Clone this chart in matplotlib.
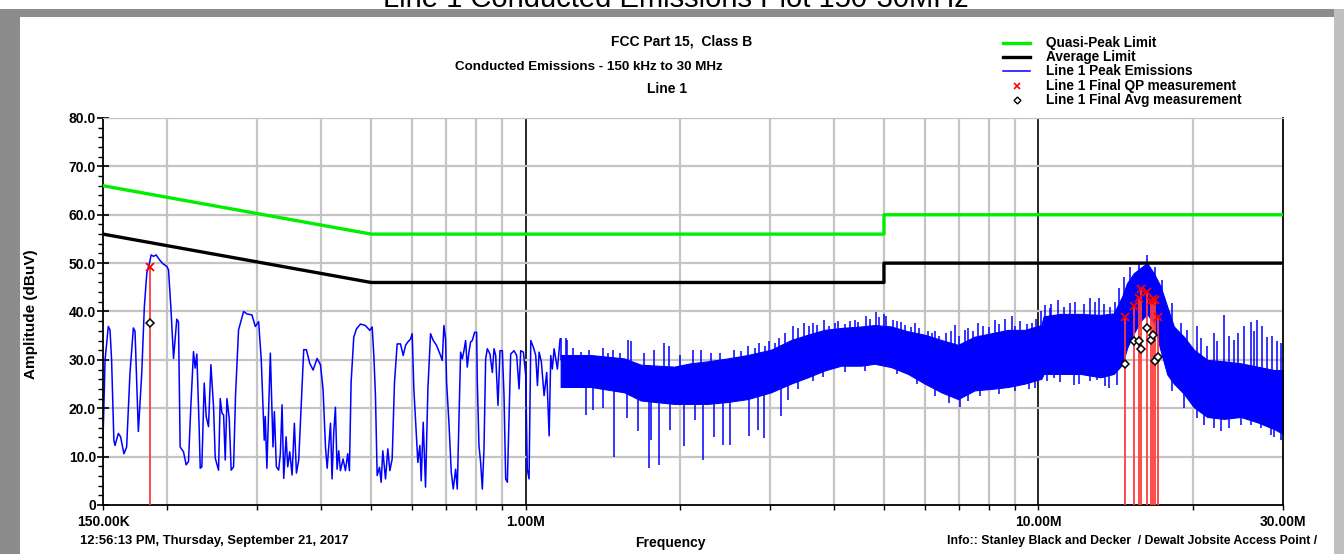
import matplotlib
matplotlib.use("Agg")
import matplotlib.pyplot as plt
import numpy as np
from matplotlib.patches import Rectangle
from matplotlib.ticker import FixedLocator, MultipleLocator, FuncFormatter

# ---- limit lines (FCC Part 15 Class B, conducted) ----
limit_freq_mhz = [0.15, 0.5, 5.0, 5.0, 30.0]
qp_limit_dbuv = [66.0, 56.0, 56.0, 60.0, 60.0]
avg_limit_dbuv = [56.0, 46.0, 46.0, 50.0, 50.0]

# ---- peak scan, 150 kHz .. ~1.17 MHz (kHz, dBuV) ----
scan_lo_khz = [
    150.0, 151.4, 153.6, 154.8, 155.9, 157.5, 158.3, 160.7, 162.3, 164.8,
    166.8, 169.3, 171.9, 173.2, 175.8, 178.5, 180.6, 182.6, 184.8, 186.2,
    188.2, 190.4, 193.3, 196.2, 199.8, 201.3, 203.4, 205.9, 208.9, 210.5,
    212.1, 215.3, 217.9, 220.2, 222.5, 225.2, 226.9, 228.6, 231.1, 232.1,
    233.8, 236.3, 238.4, 240.9, 243.5, 246.4, 248.3, 252.0, 253.9, 255.9,
    257.8, 259.7, 261.7, 264.4, 266.7, 269.6, 272.0, 275.7, 282.0, 286.2,
    292.8, 297.2, 301.7, 305.3, 309.4, 310.8, 313.1, 318.0, 321.8, 323.8,
    326.7, 330.1, 332.6, 335.2, 337.7, 341.3, 343.8, 346.9, 350.6, 354.2,
    357.5, 361.2, 364.0, 369.4, 373.9, 379.5, 385.3, 392.3, 398.2, 403.0,
    407.3, 410.4, 416.6, 419.5, 422.7, 425.9, 429.1, 432.3, 435.6, 440.8,
    445.5, 450.1, 453.5, 457.0, 462.5, 468.1, 476.6, 487.4, 497.0, 502.3,
    506.1, 509.8, 513.7, 519.1, 523.0, 526.9, 533.3, 538.9, 543.8, 549.5,
    555.3, 562.0, 570.5, 577.4, 583.5, 589.6, 596.7, 601.2, 605.7, 613.0,
    616.7, 622.3, 626.0, 631.7, 638.3, 645.1, 652.9, 660.8, 670.7, 682.9,
    688.1, 693.2, 698.4, 701.6, 709.0, 716.5, 722.9, 730.6, 736.1, 741.6,
    747.2, 752.8, 758.5, 764.2, 769.9, 775.7, 781.5, 787.4, 795.7, 802.9,
    805.4, 811.4, 817.5, 823.7, 829.9, 836.1, 842.4, 852.6, 861.6, 868.1,
    874.6, 883.8, 891.8, 901.2, 908.0, 914.8, 921.7, 928.7, 935.6, 949.8,
    961.2, 971.4, 978.7, 990.5, 1001.0, 1008.0, 1016.0, 1024.0, 1036.0, 1047.0,
    1055.0, 1063.0, 1074.0, 1087.0, 1100.0, 1112.0, 1120.0, 1128.0, 1137.0, 1154.0,
    1168.0,
]
scan_lo_dbuv = [
    13.5, 30.0, 36.9, 36.2, 30.0, 13.4, 12.3, 14.8, 14.1, 10.6,
    12.0, 27.2, 36.6, 35.9, 15.2, 27.2, 41.0, 47.9, 50.0, 51.7,
    51.4, 51.7, 50.7, 49.9, 49.3, 48.6, 41.0, 30.3, 38.4, 37.9,
    12.0, 11.0, 8.3, 9.0, 20.3, 31.7, 28.3, 31.2, 15.2, 7.6,
    7.9, 25.2, 18.3, 16.2, 29.0, 20.3, 9.7, 7.2, 22.0, 19.0,
    18.6, 9.3, 22.0, 17.9, 7.2, 7.9, 22.8, 36.2, 40.0, 39.5,
    39.3, 36.9, 37.9, 30.0, 13.4, 18.3, 7.6, 31.4, 12.0, 19.3,
    7.9, 7.2, 10.6, 20.7, 5.5, 14.1, 7.9, 11.0, 6.2, 16.9,
    6.6, 9.3, 17.2, 32.1, 32.1, 29.3, 27.9, 30.3, 29.0, 23.8,
    12.0, 7.6, 16.9, 5.4, 15.0, 20.2, 7.4, 11.2, 7.1, 9.5,
    7.1, 10.6, 7.1, 25.4, 34.7, 36.4, 37.4, 37.1, 36.1, 36.8,
    30.9, 22.6, 6.1, 7.8, 4.7, 11.2, 5.4, 11.6, 7.1, 9.5,
    25.4, 33.3, 33.3, 30.9, 33.0, 33.7, 34.3, 35.4, 24.0, 13.7,
    8.8, 12.3, 5.0, 17.1, 3.7, 24.0, 35.4, 34.0, 33.0, 30.9,
    29.9, 37.1, 34.3, 25.4, 17.1, 6.8, 3.3, 7.4, 3.3, 17.1,
    31.6, 30.2, 31.9, 34.0, 28.5, 31.6, 33.7, 34.0, 35.7, 35.7,
    25.4, 12.3, 8.8, 3.3, 11.6, 30.2, 32.3, 31.2, 27.4, 32.3,
    30.9, 20.6, 31.9, 31.9, 22.6, 5.4, 4.7, 18.5, 31.2, 31.9,
    30.9, 24.0, 31.9, 31.6, 26.8, 7.4, 5.4, 34.0, 32.6, 30.9,
    24.7, 31.6, 29.5, 22.6, 27.4, 14.3, 30.9, 28.1, 32.3, 28.1,
    34.3,
]

# ---- peak scan above ~1.17 MHz: dense sweep, shown as its envelope ----
band_mhz = [
    1.171, 1.341, 1.557, 1.679, 1.950, 2.102, 2.266, 2.479, 2.712, 3.012,
    3.295, 3.552, 3.828, 4.127, 4.515, 4.794, 5.167, 5.569, 6.002, 6.470,
    6.973, 7.515, 8.103, 8.734, 9.412, 10.14, 10.24, 11.04, 12.08, 13.22,
    14.03, 14.57, 14.90, 15.35, 15.82, 16.30, 16.80, 17.31, 17.84, 18.38,
    19.22, 20.11, 21.35, 23.01, 24.80, 26.74, 28.82, 30.0,
]
band_hi_dbuv = [
    31.0, 31.0, 30.3, 29.0, 28.6, 29.3, 29.7, 30.3, 31.0, 32.1,
    34.1, 35.2, 36.2, 36.6, 36.9, 37.2, 36.9, 35.9, 35.2, 34.1,
    33.1, 34.8, 35.5, 36.2, 36.2, 37.2, 39.0, 39.5, 39.5, 39.3,
    39.6, 43.1, 45.9, 47.9, 49.0, 50.0, 47.9, 45.2, 41.0, 36.9,
    34.8, 32.1, 30.0, 29.7, 29.3, 28.6, 27.9, 27.9,
]
band_lo_dbuv = [
    24.4, 24.4, 23.3, 21.6, 20.9, 20.9, 20.9, 21.3, 21.9, 23.3,
    25.1, 26.4, 27.8, 28.8, 28.8, 29.2, 28.5, 27.1, 25.1, 23.3,
    21.9, 23.7, 24.0, 24.4, 25.1, 26.1, 27.1, 27.1, 27.1, 26.4,
    27.1, 29.0, 32.5, 35.5, 38.0, 39.5, 37.5, 32.0, 27.0, 25.1,
    23.0, 20.2, 18.2, 17.8, 18.2, 17.1, 15.7, 14.7,
]
# single-sweep excursions above / below the envelope
spike_up_mhz = [
    1.171, 1.198, 1.207, 1.240, 1.282, 1.330, 1.413, 1.450, 1.478, 1.530,
    1.586, 1.605, 1.700, 1.780, 1.864, 1.907, 2.000, 2.118, 2.198, 2.300,
    2.400, 2.554, 2.630, 2.712, 2.800, 2.858, 2.930, 2.989, 3.060, 3.127,
    3.200, 3.320, 3.400, 3.499, 3.570, 3.633, 3.700, 3.828, 3.900, 4.017,
    4.070, 4.200, 4.300, 4.381, 4.450, 4.617, 4.700, 4.830, 4.900, 5.000,
    5.052, 5.200, 5.300, 5.404, 5.500, 5.650, 5.739, 5.850, 6.100, 6.200,
    6.279, 6.400, 6.600, 6.750, 6.869, 7.000, 7.185, 7.300, 7.450, 7.629,
    7.800, 8.000, 8.225, 8.400, 8.604, 8.866, 9.000, 9.200, 9.500, 9.699,
    9.900, 10.10, 10.30, 10.53, 10.60, 10.91, 11.20, 11.55, 11.80, 12.30,
    12.63, 12.90, 13.12, 13.40, 13.82, 14.10, 14.39, 14.68, 15.12, 15.70,
    16.30, 16.92, 17.44, 18.24, 18.94, 19.51, 20.41, 20.80, 21.35, 21.99,
    22.30, 23.01, 23.50, 24.07, 24.50, 25.18, 25.95, 26.30, 26.74, 27.30,
    27.96, 28.50, 29.20, 29.70,
]
spike_up_dbuv = [
    34.5, 34.5, 34.1, 32.5, 31.7, 32.0, 32.4, 31.5, 32.1, 31.5,
    34.1, 33.8, 31.5, 32.0, 33.4, 32.8, 31.0, 32.1, 32.1, 31.5,
    31.5, 32.1, 31.8, 32.8, 32.5, 33.4, 32.8, 33.8, 33.5, 34.5,
    35.5, 36.9, 36.5, 37.6, 37.0, 37.7, 37.2, 38.3, 37.0, 37.7,
    38.0, 37.5, 38.0, 38.3, 37.8, 39.1, 38.5, 39.8, 38.8, 39.5,
    39.1, 38.3, 38.0, 37.9, 37.3, 36.8, 37.6, 36.5, 36.0, 35.5,
    35.9, 35.0, 35.5, 36.0, 37.2, 35.0, 36.2, 36.5, 36.0, 37.6,
    37.0, 36.8, 38.3, 37.5, 38.4, 39.0, 37.0, 38.0, 37.5, 37.6,
    38.5, 40.0, 41.4, 40.7, 41.5, 42.4, 41.0, 41.7, 42.0, 41.5,
    42.8, 42.0, 42.8, 41.5, 41.0, 42.0, 44.8, 47.2, 49.3, 50.0,
    51.7, 49.3, 46.6, 41.7, 37.6, 36.2, 36.9, 34.5, 32.8, 35.5,
    34.0, 39.3, 35.0, 34.1, 35.5, 36.9, 37.9, 36.0, 38.3, 37.0,
    34.8, 35.0, 34.0, 33.4,
]
spike_dn_mhz = [
    1.311, 1.351, 1.419, 1.485, 1.576, 1.654, 1.738, 1.756, 1.823, 1.915,
    2.034, 2.140, 2.222, 2.328, 2.424, 2.501, 2.732, 2.837, 2.923, 3.150,
    3.256, 3.400, 3.633, 3.800, 4.200, 4.583, 5.300, 5.800, 6.300, 6.700,
    7.025, 7.300, 7.700, 8.400, 9.000, 9.600, 9.845, 10.40, 10.71, 11.00,
    11.72, 12.00, 12.63, 13.00, 13.50, 13.72, 14.24, 18.24, 19.22, 20.41,
    21.00, 21.99, 22.67, 23.50, 24.80, 26.00, 27.14, 28.39, 28.80, 29.70,
]
spike_dn_dbuv = [
    18.6, 19.7, 20.0, 10.0, 17.9, 15.2, 7.6, 13.4, 8.3, 15.5,
    12.1, 17.6, 9.3, 14.1, 12.4, 12.4, 14.3, 15.5, 13.8, 18.5,
    21.7, 24.0, 25.6, 26.5, 27.5, 27.6, 27.0, 25.0, 22.5, 21.0,
    20.2, 21.5, 22.5, 23.0, 23.5, 24.0, 24.1, 25.6, 26.2, 25.5,
    24.9, 25.0, 25.6, 25.8, 24.5, 24.2, 24.9, 23.5, 20.0, 18.0,
    16.5, 15.9, 15.2, 16.0, 16.6, 16.5, 15.9, 14.5, 14.0, 13.4,
]

# ---- final measurements ----
final_mhz = [0.185, 14.79, 15.38, 15.73, 15.87, 16.27, 16.55, 16.75, 16.90, 17.13]
final_qp_dbuv = [49.3, 38.8, 41.1, 42.7, 44.6, 44.0, 42.2, 42.5, 42.4, 38.8]
final_avg_dbuv = [37.6, 29.2, 33.8, 33.8, 32.2, 36.6, 34.1, 35.1, 29.7, 30.5]

W, H = 1344, 554
fig = plt.figure(figsize=(W / 100, H / 100), dpi=100)
plt.rcParams['font.family'] = ['Liberation Sans', 'DejaVu Sans']


def px(x, y):
    return x / W, 1 - y / H


ax = fig.add_axes([103 / W, 1 - 505 / H, (1283 - 103) / W, (505 - 118) / H])
ax.set_xscale('log')
ax.set_xlim(0.15, 30)
ax.set_ylim(0, 80)

grid_grey = '#c4c4c4'
minor_f = [0.2, 0.3, 0.4, 0.5, 0.6, 0.7, 0.8, 0.9, 2, 3, 4, 5, 6, 7, 8, 9, 20]
for f in minor_f:
    ax.axvline(f, color=grid_grey, lw=1.6, zorder=0)
for f in [1, 10]:
    ax.axvline(f, color='black', lw=1.2, zorder=0)
for v in range(10, 81, 10):
    ax.axhline(v, color=grid_grey, lw=1.6, zorder=0)

# limits
ax.plot(limit_freq_mhz, qp_limit_dbuv, color='#00ee00', lw=2.4, zorder=3)
ax.plot(limit_freq_mhz, avg_limit_dbuv, color='black', lw=2.4, zorder=3)

# peak emissions
blue = '#0000ff'
ax.plot(np.array(scan_lo_khz) / 1000, scan_lo_dbuv, color=blue, lw=1.1, zorder=2)
ax.fill_between(band_mhz, band_lo_dbuv, band_hi_dbuv, color=blue, lw=0.8, zorder=2)
up_base = np.interp(spike_up_mhz, band_mhz, band_hi_dbuv)
ax.vlines(spike_up_mhz, up_base - 1, spike_up_dbuv, color=blue, lw=1.1, zorder=2)
dn_base = np.interp(spike_dn_mhz, band_mhz, band_lo_dbuv)
ax.vlines(spike_dn_mhz, spike_dn_dbuv, dn_base + 1, color=blue, lw=1.1, zorder=2)

# final QP / average measurements
ax.vlines(final_mhz, 0, final_qp_dbuv, color='#ff3c3c', lw=1.3, zorder=4)
ax.plot(final_mhz, final_qp_dbuv, 'x', color='#ff0000', ms=6, mew=1.3, zorder=5)
ax.plot(final_mhz, final_avg_dbuv, 'D', color='white', mec='black', ms=4, mew=1.1, zorder=5)

# axes cosmetics
ax.spines['top'].set_color(grid_grey)
ax.spines['left'].set_linewidth(1.3)
ax.spines['bottom'].set_linewidth(1.3)
ax.spines['right'].set_linewidth(1.3)

ax.xaxis.set_major_locator(FixedLocator([0.15, 1, 10, 30]))
ax.xaxis.set_minor_locator(FixedLocator(minor_f))
ax.xaxis.set_major_formatter(FuncFormatter(
    lambda v, p: {0.15: '150.00K', 1: '1.00M', 10: '10.00M', 30: '30.00M'}.get(round(v, 2), '')))
ax.xaxis.set_minor_formatter(FuncFormatter(lambda v, p: ''))
ax.tick_params(axis='x', which='both', direction='out', length=3.5, width=1, pad=4,
               labelsize=10)
ax.yaxis.set_major_locator(MultipleLocator(10))
ax.yaxis.set_minor_locator(MultipleLocator(2))
ax.yaxis.set_major_formatter(FuncFormatter(lambda v, p: '0' if v == 0 else f'{v:.1f}'))
ax.tick_params(axis='y', which='major', direction='inout', length=8, width=1.2, labelsize=10, pad=1)
ax.tick_params(axis='y', which='minor', direction='out', length=3.5, width=1)
for lab in ax.get_xticklabels() + ax.get_yticklabels():
    lab.set_fontweight('bold')

fig.text(*px(31, 314), 'Amplitude (dBuV)', rotation=90, ha='center', va='center',
         fontsize=11, fontweight='bold')

# header texts
fig.text(*px(676, 7), 'Line 1 Conducted Emissions Plot 150-30MHz', ha='center', va='baseline',
         fontsize=21)
fig.text(*px(682, 42), 'FCC Part 15,  Class B', ha='center', va='center', fontsize=10, fontweight='bold')
fig.text(*px(589, 67), 'Conducted Emissions - 150 kHz to 30 MHz', ha='center', va='center',
         fontsize=9.6, fontweight='bold')
fig.text(*px(667, 89), 'Line 1', ha='center', va='center', fontsize=10, fontweight='bold')

# legend
leg_rows = [43, 57, 71, 86, 100]
leg_text = ['Quasi-Peak Limit', 'Average Limit', 'Line 1 Peak Emissions',
            'Line 1 Final QP measurement', 'Line 1 Final Avg measurement']
lx0, lx1 = px(1003, 0)[0], px(1030, 0)[0]
fig.add_artist(plt.Line2D([lx0, lx1], [px(0, 43)[1]] * 2, color='#00ee00', lw=2.4))
fig.add_artist(plt.Line2D([lx0, lx1], [px(0, 57)[1]] * 2, color='black', lw=2.4))
fig.add_artist(plt.Line2D([lx0, lx1], [px(0, 71)[1]] * 2, color=blue, lw=1.1))
fig.add_artist(plt.Line2D([px(1017, 0)[0]], [px(0, 86)[1]], marker='x', color='#ff0000', ms=5, mew=1.2))
fig.add_artist(plt.Line2D([px(1017, 0)[0]], [px(0, 100)[1]], marker='D', color='white', mec='black',
                          ms=3.5, mew=1.0))
for y, t in zip(leg_rows, leg_text):
    fig.text(*px(1046, y), t, ha='left', va='center', fontsize=9.8, fontweight='bold')

# footer texts
fig.text(*px(80, 541), '12:56:13 PM, Thursday, September 21, 2017', ha='left', va='center',
         fontsize=9.4, fontweight='bold')
fig.text(*px(670, 543), 'Frequency', ha='center', va='center', fontsize=10, fontweight='bold')
fig.text(*px(947, 541), 'Info:: Stanley Black and Decker  / Dewalt Jobsite Access Point /',
         ha='left', va='center', fontsize=8.8, fontweight='bold')

# window frame
fig.add_artist(Rectangle(px(0, H), 20 / W, (H - 9) / H, transform=fig.transFigure,
                         facecolor='#8c8c8c', edgecolor='none', zorder=10))
fig.add_artist(Rectangle(px(0, 17), 1, 8 / H, transform=fig.transFigure,
                         facecolor='#8c8c8c', edgecolor='none', zorder=10))
fig.add_artist(Rectangle(px(1334, H), 10 / W, (H - 9) / H, transform=fig.transFigure,
                         facecolor='#c0c0c0', edgecolor='none', zorder=10))

fig.savefig('out.png', dpi=100)
